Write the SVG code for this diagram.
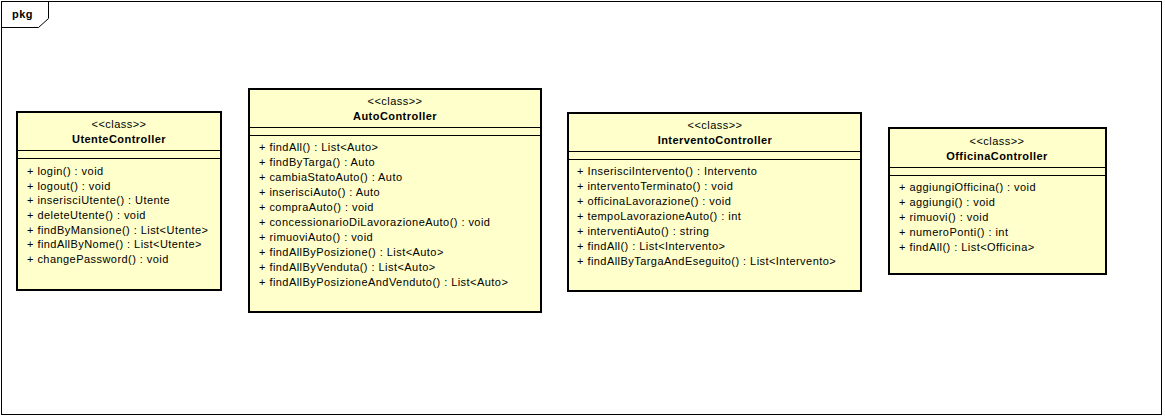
<svg xmlns="http://www.w3.org/2000/svg" width="1165" height="418" viewBox="0 0 1165 418">
<style>
text{font-family:"Liberation Sans",Arial,sans-serif;font-size:11px;fill:#000;letter-spacing:0.45px}
.st{text-anchor:middle}
.nm{text-anchor:middle;font-weight:bold}
.box{fill:#FFFFCC;stroke:#000;stroke-width:2}
.ln{stroke:#000;stroke-width:1;fill:none}
</style>
<rect width="1165" height="418" fill="#fff"/>
<g id="frame">
<rect x="1.5" y="1.5" width="1160" height="413" fill="none" stroke="#000" stroke-width="1"/>
<path class="ln" d="M1.5,27.5 H38.5 L48.5,18.5 V1.5"/>
<text x="12" y="18" style="font-weight:bold">pkg</text>
</g>
<g id="connectors"></g>
<g id="UtenteController">
<rect class="box" x="17" y="112" width="204" height="178"/>
<text class="st" x="119" y="128">&lt;&lt;class&gt;&gt;</text>
<text class="nm" x="119" y="143">UtenteController</text>
<path class="ln" d="M17,150.5 H221 M17,158.5 H221"/>
<text x="27" y="175">+ login() : void</text>
<text x="27" y="190">+ logout() : void</text>
<text x="27" y="204">+ inserisciUtente() : Utente</text>
<text x="27" y="219">+ deleteUtente() : void</text>
<text x="27" y="234">+ findByMansione() : List&lt;Utente&gt;</text>
<text x="27" y="248">+ findAllByNome() : List&lt;Utente&gt;</text>
<text x="27" y="263">+ changePassword() : void</text>
</g>
<g id="AutoController">
<rect class="box" x="249" y="89" width="292" height="223"/>
<text class="st" x="395" y="105">&lt;&lt;class&gt;&gt;</text>
<text class="nm" x="395" y="120">AutoController</text>
<path class="ln" d="M249,127.5 H541 M249,135.5 H541"/>
<text x="259" y="151">+ findAll() : List&lt;Auto&gt;</text>
<text x="259" y="166">+ findByTarga() : Auto</text>
<text x="259" y="181">+ cambiaStatoAuto() : Auto</text>
<text x="259" y="196">+ inserisciAuto() : Auto</text>
<text x="259" y="211">+ compraAuto() : void</text>
<text x="259" y="226">+ concessionarioDiLavorazioneAuto() : void</text>
<text x="259" y="241">+ rimuoviAuto() : void</text>
<text x="259" y="256">+ findAllByPosizione() : List&lt;Auto&gt;</text>
<text x="259" y="271">+ findAllByVenduta() : List&lt;Auto&gt;</text>
<text x="259" y="286">+ findAllByPosizioneAndVenduto() : List&lt;Auto&gt;</text>
</g>
<g id="InterventoController">
<rect class="box" x="568" y="113" width="293" height="178"/>
<text class="st" x="715" y="129">&lt;&lt;class&gt;&gt;</text>
<text class="nm" x="715" y="144">InterventoController</text>
<path class="ln" d="M568,151.5 H861 M568,159.5 H861"/>
<text x="577" y="175">+ InserisciIntervento() : Intervento</text>
<text x="577" y="190">+ interventoTerminato() : void</text>
<text x="577" y="205">+ officinaLavorazione() : void</text>
<text x="577" y="220">+ tempoLavorazioneAuto() : int</text>
<text x="577" y="235">+ interventiAuto() : string</text>
<text x="577" y="250">+ findAll() : List&lt;Intervento&gt;</text>
<text x="577" y="265">+ findAllByTargaAndEseguito() : List&lt;Intervento&gt;</text>
</g>
<g id="OfficinaController">
<rect class="box" x="889" y="128" width="217" height="146"/>
<text class="st" x="997" y="145">&lt;&lt;class&gt;&gt;</text>
<text class="nm" x="997" y="160">OfficinaController</text>
<path class="ln" d="M889,167.5 H1106 M889,175.5 H1106"/>
<text x="899" y="191">+ aggiungiOfficina() : void</text>
<text x="899" y="206">+ aggiungi() : void</text>
<text x="899" y="221">+ rimuovi() : void</text>
<text x="899" y="236">+ numeroPonti() : int</text>
<text x="899" y="251">+ findAll() : List&lt;Officina&gt;</text>
</g>
</svg>
